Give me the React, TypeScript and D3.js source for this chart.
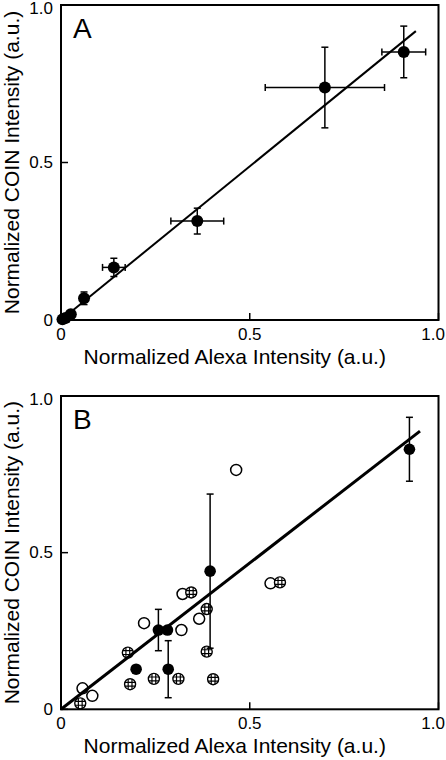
import React from "react";
import * as d3 from "d3";

// Panel A data
const aX = [0.004, 0.012, 0.026, 0.061, 0.140, 0.361, 0.699, 0.908];
const aY = [0.002, 0.006, 0.018, 0.069, 0.167, 0.314, 0.738, 0.851];
const aXErr = [0, 0, 0, 0, 0.03, 0.07, 0.158, 0.058];
const aYErr = [0, 0, 0, 0.02, 0.029, 0.041, 0.128, 0.082];
const fitAX = [0, 0.94];
const fitAY = [0, 0.917];

// Panel B data
const bFilledX = [0.923, 0.395, 0.258, 0.282, 0.199, 0.284];
const bFilledY = [0.830, 0.441, 0.253, 0.253, 0.128, 0.128];
const bFilledErr = [0.102, 0.246, 0.066, 0, 0, 0.091];
const bOpenX = [0.464, 0.555, 0.322, 0.220, 0.319, 0.366, 0.057, 0.083];
const bOpenY = [0.764, 0.402, 0.368, 0.275, 0.253, 0.289, 0.067, 0.043];
const bHatchX = [0.580, 0.345, 0.386, 0.386, 0.177, 0.183, 0.246, 0.311, 0.403, 0.051];
const bHatchY = [0.405, 0.373, 0.320, 0.184, 0.181, 0.080, 0.097, 0.097, 0.096, 0.019];
const fitBX = [0, 0.951];
const fitBY = [0, 0.888];

const ticks = [0, 0.5, 1.0];
const tickLabels = ["0", "0.5", "1.0"];
const xTitle = "Normalized Alexa Intensity (a.u.)";
const yTitle = "Normalized COIN Intensity (a.u.)";

const FONT = "'Liberation Sans', Arial, Helvetica, sans-serif";

type Scale = d3.ScaleLinear<number, number>;
type PanelProps = {
  top: number;
  bottom: number;
  letter: string;
  children: (x: Scale, y: Scale) => React.ReactNode;
};

const LEFT = 61;
const RIGHT = 438.5;

function Panel({ top, bottom, letter, children }: PanelProps) {
  const x = d3.scaleLinear().domain([0, 1]).range([LEFT, RIGHT]);
  const y = d3.scaleLinear().domain([0, 1]).range([bottom, top]);
  const midY = (top + bottom) / 2;
  return (
    <g>
      {ticks.map((t, i) => (
        <g key={"xt" + i}>
          <line x1={x(t)} x2={x(t)} y1={y(0)} y2={y(0) - 7} stroke="#000" strokeWidth={1.5} />
          <text
            x={i === 2 ? 445 : x(t)}
            y={y(0) + 19.5}
            textAnchor={i === 2 ? "end" : "middle"}
            fontSize={17}
            fontFamily={FONT}
          >
            {tickLabels[i]}
          </text>
        </g>
      ))}
      {ticks.map((t, i) => (
        <g key={"yt" + i}>
          <line x1={x(0)} x2={x(0) + 7} y1={y(t)} y2={y(t)} stroke="#000" strokeWidth={1.5} />
          <text
            x={x(0) - 8}
            y={y(t) + (i === 2 ? 3 : 0)}
            textAnchor="end"
            dominantBaseline="central"
            fontSize={17}
            fontFamily={FONT}
          >
            {tickLabels[i]}
          </text>
        </g>
      ))}
      <text x={(LEFT + RIGHT) / 2 - 15} y={bottom + 44} textAnchor="middle" fontSize={21} fontFamily={FONT}>
        {xTitle}
      </text>
      <text
        transform={`translate(19,${midY}) rotate(-90)`}
        textAnchor="middle"
        fontSize={21}
        fontFamily={FONT}
      >
        {yTitle}
      </text>
      <text x={73} y={top + 33} fontSize={28} fontFamily={FONT}>
        {letter}
      </text>
      {children(x, y)}
      <rect x={LEFT} y={top} width={RIGHT - LEFT} height={bottom - top} fill="none" stroke="#000" strokeWidth={2} />
    </g>
  );
}

function ErrY({ cx, y0, y1 }: { cx: number; y0: number; y1: number }) {
  return (
    <g stroke="#000" strokeWidth={1.5}>
      <line x1={cx} x2={cx} y1={y0} y2={y1} />
      <line x1={cx - 3.5} x2={cx + 3.5} y1={y0} y2={y0} />
      <line x1={cx - 3.5} x2={cx + 3.5} y1={y1} y2={y1} />
    </g>
  );
}
function ErrX({ cy, x0, x1 }: { cy: number; x0: number; x1: number }) {
  return (
    <g stroke="#000" strokeWidth={1.5}>
      <line x1={x0} x2={x1} y1={cy} y2={cy} />
      <line x1={x0} x2={x0} y1={cy - 3.5} y2={cy + 3.5} />
      <line x1={x1} x2={x1} y1={cy - 3.5} y2={cy + 3.5} />
    </g>
  );
}

function HatchCircle({ cx, cy, r, id }: { cx: number; cy: number; r: number; id: string }) {
  const offs = [-1.9, 1.9];
  return (
    <g>
      <clipPath id={id}>
        <circle cx={cx} cy={cy} r={r} />
      </clipPath>
      <circle cx={cx} cy={cy} r={r} fill="#fff" />
      <g clipPath={`url(#${id})`} stroke="#000" strokeWidth={1.2}>
        {offs.map((o, i) => (
          <line key={"v" + i} x1={cx + o} x2={cx + o} y1={cy - r} y2={cy + r} />
        ))}
        {offs.map((o, i) => (
          <line key={"h" + i} x1={cx - r} x2={cx + r} y1={cy + o} y2={cy + o} />
        ))}
      </g>
      <circle cx={cx} cy={cy} r={r} fill="none" stroke="#000" strokeWidth={1.4} />
    </g>
  );
}

export default function App() {
  return (
    <svg
      width={446}
      height={760}
      style={{ position: "absolute", left: 0, top: 0, background: "#fff" }}
      xmlns="http://www.w3.org/2000/svg"
    >
      <Panel top={5} bottom={320} letter="A">
        {(x, y) => {
          const path = d3
            .line<number>()
            .x((d) => x(d))
            .y((_, i) => y(fitAY[i]))(fitAX);
          return (
            <g>
              <path d={path || ""} fill="none" stroke="#000" strokeWidth={2} />
              {aX.map((v, i) => (
                <g key={i}>
                  {aXErr[i] > 0 && <ErrX cy={y(aY[i])} x0={x(v - aXErr[i])} x1={x(v + aXErr[i])} />}
                  {aYErr[i] > 0 && <ErrY cx={x(v)} y0={y(aY[i] + aYErr[i])} y1={y(aY[i] - aYErr[i])} />}
                  <circle cx={x(v)} cy={y(aY[i])} r={6} fill="#000" />
                </g>
              ))}
            </g>
          );
        }}
      </Panel>
      <Panel top={396} bottom={709.3} letter="B">
        {(x, y) => {
          const path = d3
            .line<number>()
            .x((d) => x(d))
            .y((_, i) => y(fitBY[i]))(fitBX);
          return (
            <g>
              {bOpenX.map((v, i) => (
                <circle key={"o" + i} cx={x(v)} cy={y(bOpenY[i])} r={5.5} fill="#fff" stroke="#000" strokeWidth={1.5} />
              ))}
              {bHatchX.map((v, i) => (
                <HatchCircle key={"h" + i} id={"hc" + i} cx={x(v)} cy={y(bHatchY[i])} r={5.5} />
              ))}
              {bFilledX.map((v, i) => (
                <g key={"f" + i}>
                  {bFilledErr[i] > 0 && (
                    <ErrY cx={x(v)} y0={y(bFilledY[i] + bFilledErr[i])} y1={y(bFilledY[i] - bFilledErr[i])} />
                  )}
                  <circle cx={x(v)} cy={y(bFilledY[i])} r={5.8} fill="#000" />
                </g>
              ))}
              <path d={path || ""} fill="none" stroke="#000" strokeWidth={3} />
            </g>
          );
        }}
      </Panel>
    </svg>
  );
}
